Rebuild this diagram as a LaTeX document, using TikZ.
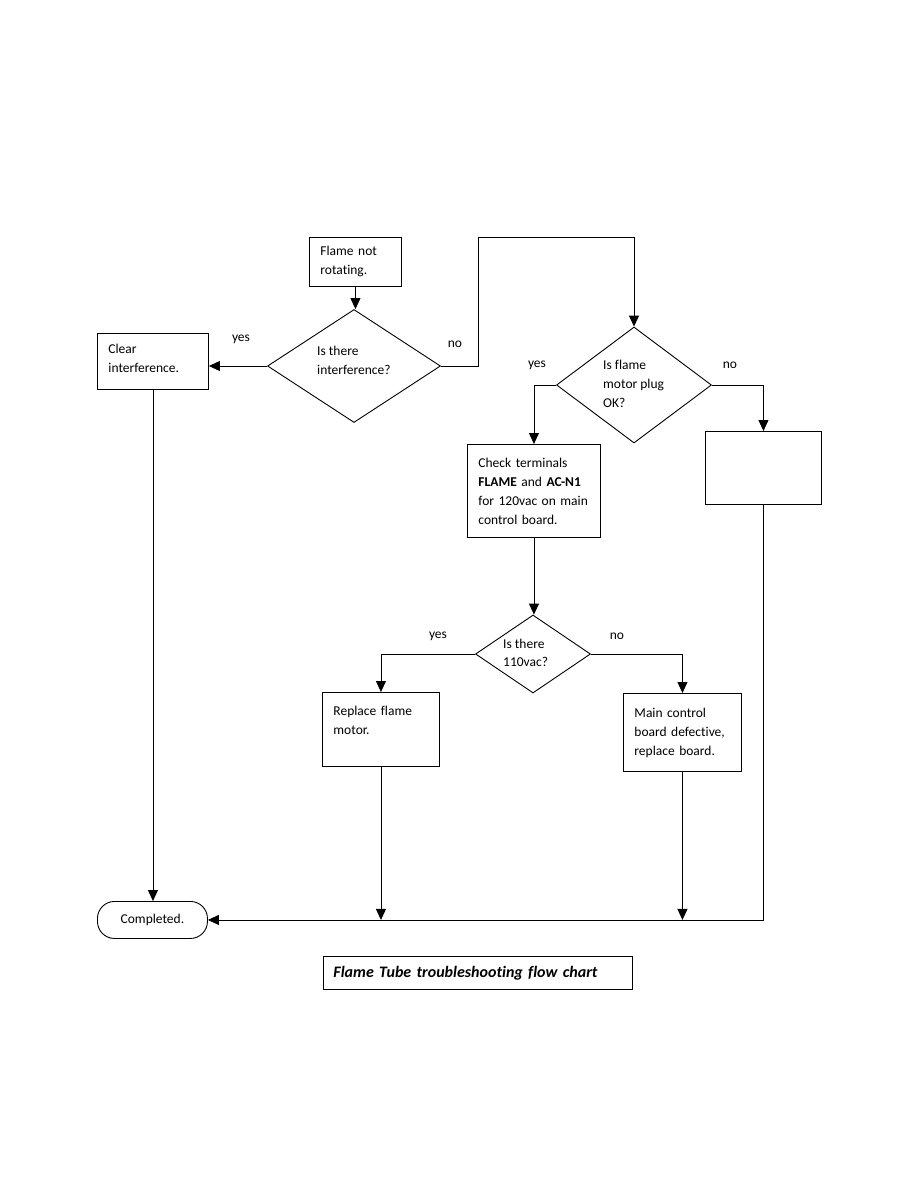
\documentclass[tikz,border=0pt]{standalone}
\usepackage{fontspec}
\setmainfont{Carlito}[Ligatures={NoCommon}]
\usetikzlibrary{shapes.geometric,arrows.meta}
\begin{document}
\begin{tikzpicture}[x=1pt,y=-1pt,
  box/.style={draw, line width=0.9pt, rectangle, align=left, inner xsep=11pt, inner ysep=0pt,
    anchor=north west, font=\fontsize{13.5}{19}\selectfont},
  dia/.style={draw, line width=0.9pt, diamond, inner sep=0pt},
  dtext/.style={anchor=west, align=left, inner sep=0pt, font=\fontsize{13.5}{19}\selectfont},
  lbl/.style={inner sep=0pt, font=\fontsize{13.5}{15}\selectfont},
  arr/.style={line width=0.9pt, -{Triangle[length=11pt,width=10pt]}},
  conn/.style={line width=0.9pt}]
\useasboundingbox (0,0) rectangle (918,1188);
\fill[white] (0,0) rectangle (918,1188);

% boxes
\node[box, minimum width=92, minimum height=49, text width=70] (start) at (309,237) {Flame not\\rotating.};
\node[box, minimum width=111, minimum height=56, text width=89] (clear) at (97,333) {Clear\\interference.\\[-13pt]\mbox{}};
\node[box, minimum width=133, minimum height=93, text width=111] (check) at (467,444)
  {Check terminals\\\textbf{FLAME} and \textbf{AC-N1}\\for 120vac on main\\control board.};
\node[box, minimum width=116, minimum height=73, text width=94] (empty) at (705,431) {};
\node[box, minimum width=117, minimum height=74, text width=95] (replace) at (322,692) {Replace flame\\motor.\\\mbox{}};
\node[box, minimum width=118, minimum height=78, text width=96] (mainb) at (623,693) {Main control\\board defective,\\replace board.};
\node[box, rounded corners=17pt, minimum width=110, minimum height=37, inner xsep=0pt, text width=110,
  align=center, font=\fontsize{13.5}{15}\selectfont] (done) at (97,901) {Completed.\hspace{14pt}};
\node[box, minimum width=309, minimum height=33, inner xsep=10pt, text width=289,
  font=\fontsize{16}{18}\selectfont\bfseries\itshape] (cap) at (323,956) {Flame Tube troubleshooting flow chart};

% decisions
\node[dia, minimum width=173, minimum height=113] (d1) at (354,366) {};
\node[dtext] (d1t) at (317,360) {Is there\\interference?};
\node[dia, minimum width=155, minimum height=116] (d2) at (634,385) {};
\node[dtext] (d2t) at (603,384) {Is flame\\motor plug\\OK?};
\node[dia, minimum width=115, minimum height=78] (d3) at (533,654) {};
\node[dtext, font=\fontsize{13.5}{18}\selectfont] (d3t) at (503,653) {Is there\\110vac?};

% labels
\node[lbl] (l1) at (241,339) {yes};
\node[lbl] (l2) at (455,344) {no};
\node[lbl] (l3) at (537,365) {yes};
\node[lbl] (l4) at (730,365) {no};
\node[lbl] (l5) at (438,636) {yes};
\node[lbl] (l6) at (617,636) {no};

% connectors
\draw[arr] (start.south) -- (start.south |- d1.north);
\draw[arr] (d1.west) -- (clear.east |- d1.west);
\draw[arr] (d1.east) -- ++(37,0) |- (d2.north |- start.north) -- (d2.north);
\draw[arr] (d2.west) -| (check.north);
\draw[arr] (d2.east) -| (empty.north);
\draw[arr] (check.south) -- (check.south |- d3.north);
\draw[arr] (d3.west) -| (replace.north);
\draw[arr] (d3.east) -| (mainb.north);
\draw[arr] (clear.south) -- (clear.south |- done.north);
\draw[arr] (empty.south) |- (done.east);
\draw[arr] (replace.south) -- (replace.south |- done.east);
\draw[arr] (mainb.south) -- (mainb.south |- done.east);
\end{tikzpicture}
\end{document}
